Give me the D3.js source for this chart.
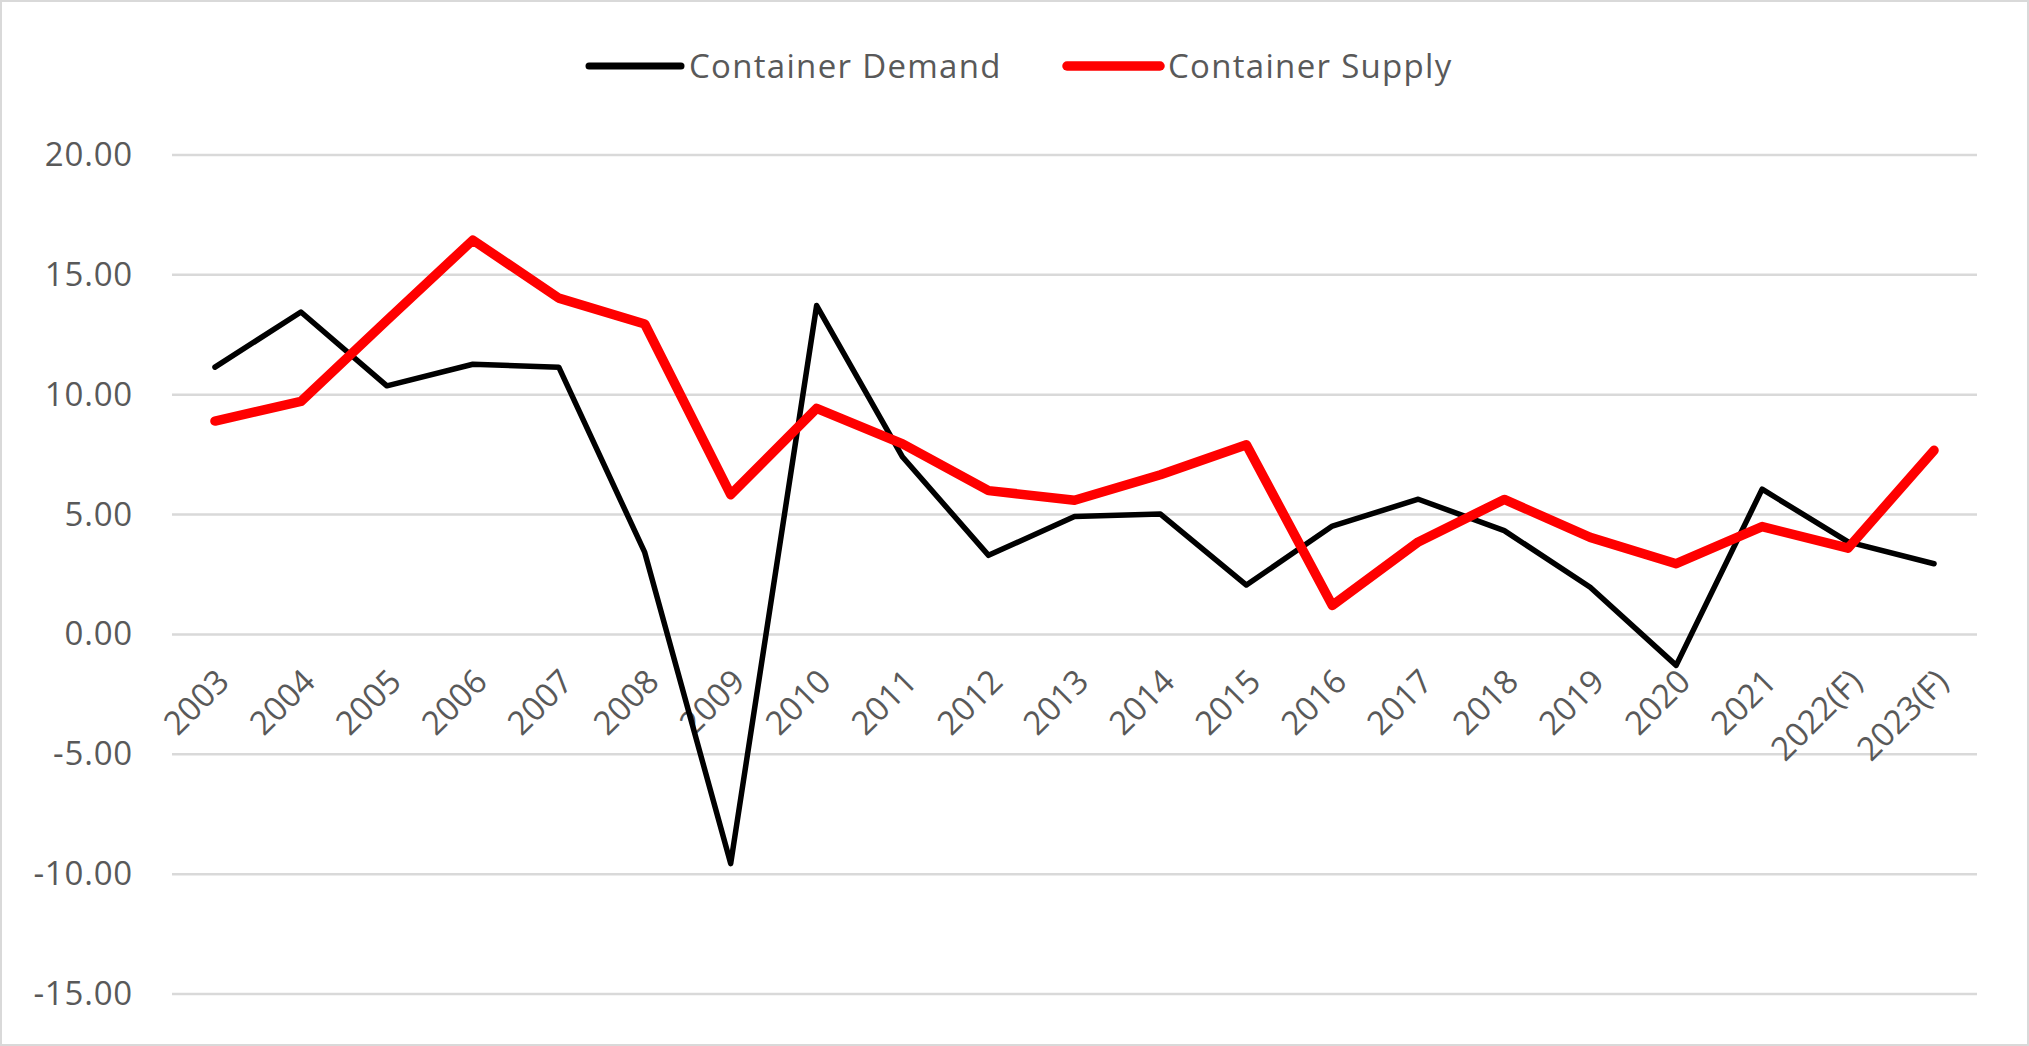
<!DOCTYPE html>
<html>
<head>
<meta charset="utf-8">
<script src="https://cdn.jsdelivr.net/npm/d3@7"></script>
<style>
  html, body { margin: 0; padding: 0; background: #fff; }
  svg { display: block; font-family: "Open Sans", "Noto Sans", sans-serif; }
</style>
</head>
<body>
<svg id="chart"></svg>
<script>
// categories and series
const years = ["2003", "2004", "2005", "2006", "2007", "2008", "2009", "2010", "2011", "2012",
    "2013", "2014", "2015", "2016", "2017", "2018", "2019", "2020", "2021", "2022(F)", "2023(F)"];
const demand = [11.15, 13.45, 10.37, 11.27, 11.15, 3.42, -9.56, 13.72, 7.4, 3.3,
    4.92, 5.02, 2.06, 4.52, 5.64, 4.33, 1.97, -1.29, 6.06, 3.86, 2.95];
const supply = [8.9, 9.72, 13.1, 16.45, 14.03, 12.95, 5.83, 9.43, 7.95, 6.0,
    5.6, 6.66, 7.91, 1.21, 3.86, 5.63, 4.05, 2.95, 4.5, 3.6, 7.68];
const yTicks = [-15, -10, -5, 0, 5, 10, 15, 20];
const seriesNames = ["Container Demand", "Container Supply"];

document.addEventListener('DOMContentLoaded', function () {
    const W = 2029, H = 1046;
    const textColor = "#595959";
    const gridColor = "#d9d9d9";

    const svg = d3.select("#chart")
        .attr("width", W)
        .attr("height", H);

    // chart border
    svg.append("rect")
        .attr("x", 1).attr("y", 1)
        .attr("width", W - 2).attr("height", H - 2)
        .attr("fill", "#fff")
        .attr("stroke", gridColor)
        .attr("stroke-width", 2);

    const x = d3.scaleBand()
        .domain(years)
        .range([172, 1977])
        .padding(0);

    const y = d3.scaleLinear()
        .domain([-15, 20])
        .range([994, 155]);

    // gridlines
    svg.append("g")
        .selectAll("line")
        .data(yTicks)
        .join("line")
        .attr("x1", 172)
        .attr("x2", 1977)
        .attr("y1", d => y(d))
        .attr("y2", d => y(d))
        .attr("stroke", gridColor)
        .attr("stroke-width", 2.5);

    // y axis labels
    const yAxis = svg.append("g")
        .attr("transform", "translate(133,0)")
        .call(d3.axisLeft(y).tickValues(yTicks).tickFormat(d3.format(".2f")).tickSize(0).tickPadding(0));
    yAxis.select(".domain").remove();
    yAxis.selectAll("text")
        .attr("fill", textColor)
        .style("font-size", "33px")
        .style("font-family", "\"Open Sans\", sans-serif")
        .style("letter-spacing", "0.8px")
        .text(d => d3.format(".2f")(d).replace("−", "-"));

    // x axis labels, rotated
    svg.append("g")
        .selectAll("text")
        .data(years)
        .join("text")
        .attr("transform", d => `translate(${x(d) + x.bandwidth() / 2 + 8},${y(0) + 41}) rotate(-45)`)
        .attr("text-anchor", "end")
        .attr("dy", "0.35em")
        .attr("fill", textColor)
        .style("font-size", "33px")
        .text(d => d);

    // lines
    const line = d3.line()
        .x((d, i) => x(years[i]) + x.bandwidth() / 2)
        .y(d => y(d))
        .curve(d3.curveLinear);

    svg.append("path")
        .datum(demand)
        .attr("d", line)
        .attr("fill", "none")
        .attr("stroke", "#000")
        .attr("stroke-width", 5.5)
        .attr("stroke-linejoin", "round")
        .attr("stroke-linecap", "round");

    svg.append("path")
        .datum(supply)
        .attr("d", line)
        .attr("fill", "none")
        .attr("stroke", "#ff0000")
        .attr("stroke-width", 9.5)
        .attr("stroke-linejoin", "round")
        .attr("stroke-linecap", "round");

    // legend
    const legend = [
        { name: seriesNames[0], color: "#000", width: 7, x0: 589, x1: 681, tx: 689 },
        { name: seriesNames[1], color: "#ff0000", width: 9.5, x0: 1067, x1: 1160, tx: 1168 }
    ];
    const lg = svg.append("g");
    lg.selectAll("line")
        .data(legend)
        .join("line")
        .attr("x1", d => d.x0)
        .attr("x2", d => d.x1)
        .attr("y1", 66)
        .attr("y2", 66)
        .attr("stroke", d => d.color)
        .attr("stroke-width", d => d.width)
        .attr("stroke-linecap", "round");
    lg.selectAll("text")
        .data(legend)
        .join("text")
        .attr("x", d => d.tx)
        .attr("y", 66)
        .attr("dy", "0.35em")
        .attr("fill", textColor)
        .style("font-size", "33px")
        .style("letter-spacing", "1.3px")
        .text(d => d.name);
});
</script>
</body>
</html>
